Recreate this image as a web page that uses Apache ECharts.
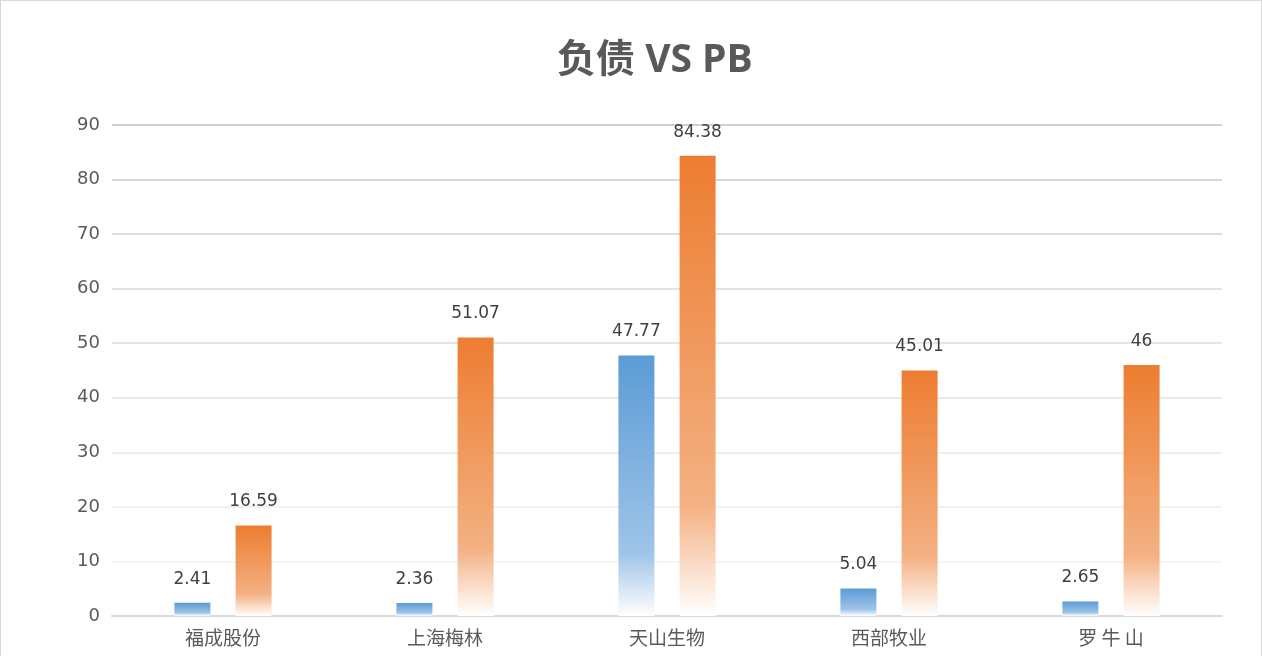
<!DOCTYPE html>
<html>
<head>
<meta charset="utf-8">
<script src="https://cdn.jsdelivr.net/npm/echarts@6/dist/echarts.min.js"></script>
<style>
html,body{margin:0;padding:0;background:#fff;}
#wrap{position:absolute;left:0;top:0;width:1260px;height:656px;border:1px solid #d9d9d9;border-bottom:none;}
#chart{width:1260px;height:656px;}
</style>
</head>
<body>
<div id="wrap"><div id="chart"></div></div>
<script>
const categories = ['福成股份', '上海梅林', '天山生物', '西部牧业', '罗 牛 山'];
const debtValues = [2.41, 2.36, 47.77, 5.04, 2.65];
const pbValues = [16.59, 51.07, 84.38, 45.01, 46];
const yTicks = { min: 0, max: 90, interval: 10 };

const chart = echarts.init(document.getElementById('chart'));
const grad = (c0, c1) => new echarts.graphic.LinearGradient(0, 0, 0, 1, [
  { offset: 0, color: c0 },
  { offset: 0.76, color: c1 },
  { offset: 1, color: '#ffffff' }
]);
const labelStyle = {
  show: true, position: 'top', distance: 15,
  color: '#404040', fontSize: 17, fontFamily: 'DejaVu Sans'
};
chart.setOption({
  animation: false,
  title: {
    text: '负债 VS PB', left: 551, top: 35,
    textStyle: { fontSize: 39, fontWeight: 'bold', color: '#595959', fontFamily: 'Open Sans, Noto Sans CJK SC' }
  },
  grid: { left: 111, right: 39, top: 124, bottom: 41, containLabel: false },
  xAxis: {
    type: 'category', data: categories,
    axisLine: { lineStyle: { color: '#d9d9d9', width: 2 } },
    axisTick: { show: false },
    axisLabel: { color: '#595959', fontSize: 19, margin: 12, fontFamily: 'Noto Sans CJK SC' }
  },
  yAxis: {
    type: 'value', min: yTicks.min, max: yTicks.max, interval: yTicks.interval,
    axisLine: { show: false }, axisTick: { show: false },
    axisLabel: { color: '#595959', fontSize: 18, margin: 12, fontFamily: 'DejaVu Sans' },
    splitLine: { lineStyle: { width: 1.5, color: ['#d9d9d9', '#f0f0f0', '#ececec', '#e8e8e8', '#e3e3e3', '#dedede', '#d9d9d9', '#d2d2d2', '#cbcbcb', '#c0c0c0'] } }
  },
  series: [
    {
      name: '负债', type: 'bar', data: debtValues, barWidth: 36, barGap: '70%',
      itemStyle: { color: grad('#5B9BD5', '#9FC4E8') },
      label: labelStyle
    },
    {
      name: 'PB', type: 'bar', data: pbValues, barWidth: 36,
      itemStyle: { color: grad('#ED7D31', '#F4B183') },
      label: labelStyle
    }
  ]
});
</script>
</body>
</html>
